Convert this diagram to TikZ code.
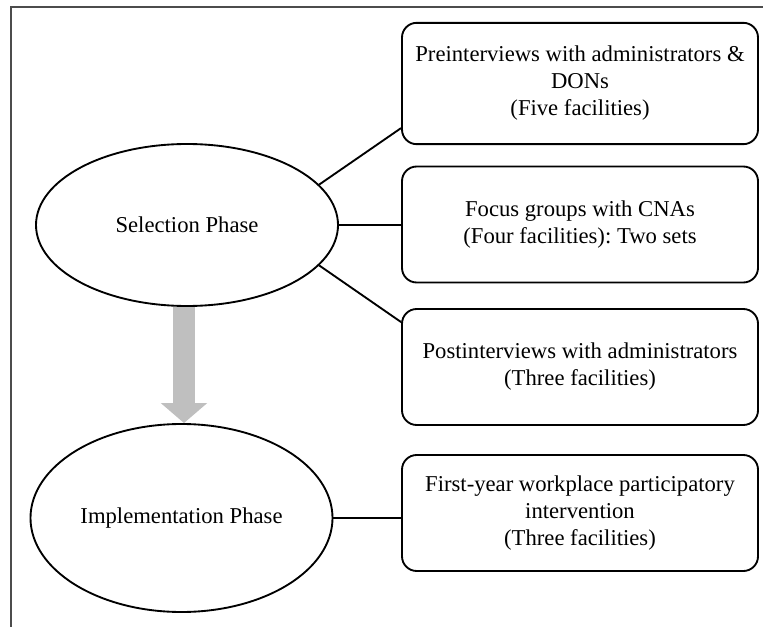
\documentclass[tikz,border=0pt]{standalone}
\usepackage{fontspec}
\setmainfont{Liberation Serif}
\usepackage{tikz}
\usetikzlibrary{positioning, arrows.meta, shapes.geometric}
\frenchspacing

\begin{document}
\begin{tikzpicture}[x=0.75pt, y=-0.75pt,
  phase/.style={draw, line width=1.4pt, ellipse, inner sep=0pt, minimum width=226.5pt, font=\fontsize{17}{20.25}\selectfont},
  task/.style={draw, line width=1.4pt, rounded corners=11pt, minimum width=267pt, minimum height=87pt, align=center, inner sep=2pt, font=\fontsize{17}{20.25}\selectfont},
  link/.style={line width=1.4pt}]
\useasboundingbox (0,0) rectangle (763,627);

% --- Frame (top and left) ---
\draw[line width=1.6pt, black!70] (763,7) -- (11,7) -- (11,627);

% --- Phases ---
\node[phase, minimum height=121.5pt] (sel) at (187,225) {Selection Phase};
\node[phase, minimum height=141pt] (impl) at (181.5,518) {Implementation Phase};

% --- Activities ---
\node[task, minimum height=91pt] (pre) at (580,83.5) {Preinterviews with administrators \&\\ DONs\\ (Five facilities)};
\node[task] (focus) at (580,224.5) {Focus groups with CNAs\\ (Four facilities): Two sets};
\node[task] (post) at (580,367) {Postinterviews with administrators\\ (Three facilities)};
\node[task] (interv) at (580,513) {First-year workplace participatory\\ intervention\\ (Three facilities)};

% --- Connectors ---
\draw[link] (sel.17) -- ([yshift=12.75pt]pre.south west);
\draw[link] (sel.east) -- (sel.east -| focus.west);
\draw[link] (sel.-17) -- ([yshift=-10.5pt]post.north west);
\draw[link] (impl.east) -- (impl.east -| interv.west);

% --- Phase arrow ---
\coordinate (ax) at (184,0);
\draw[line width=17pt, gray!50, -{Triangle[length=15pt, width=34pt]}] (sel.south -| ax) -- (impl.north -| ax);
\end{tikzpicture}
\end{document}
